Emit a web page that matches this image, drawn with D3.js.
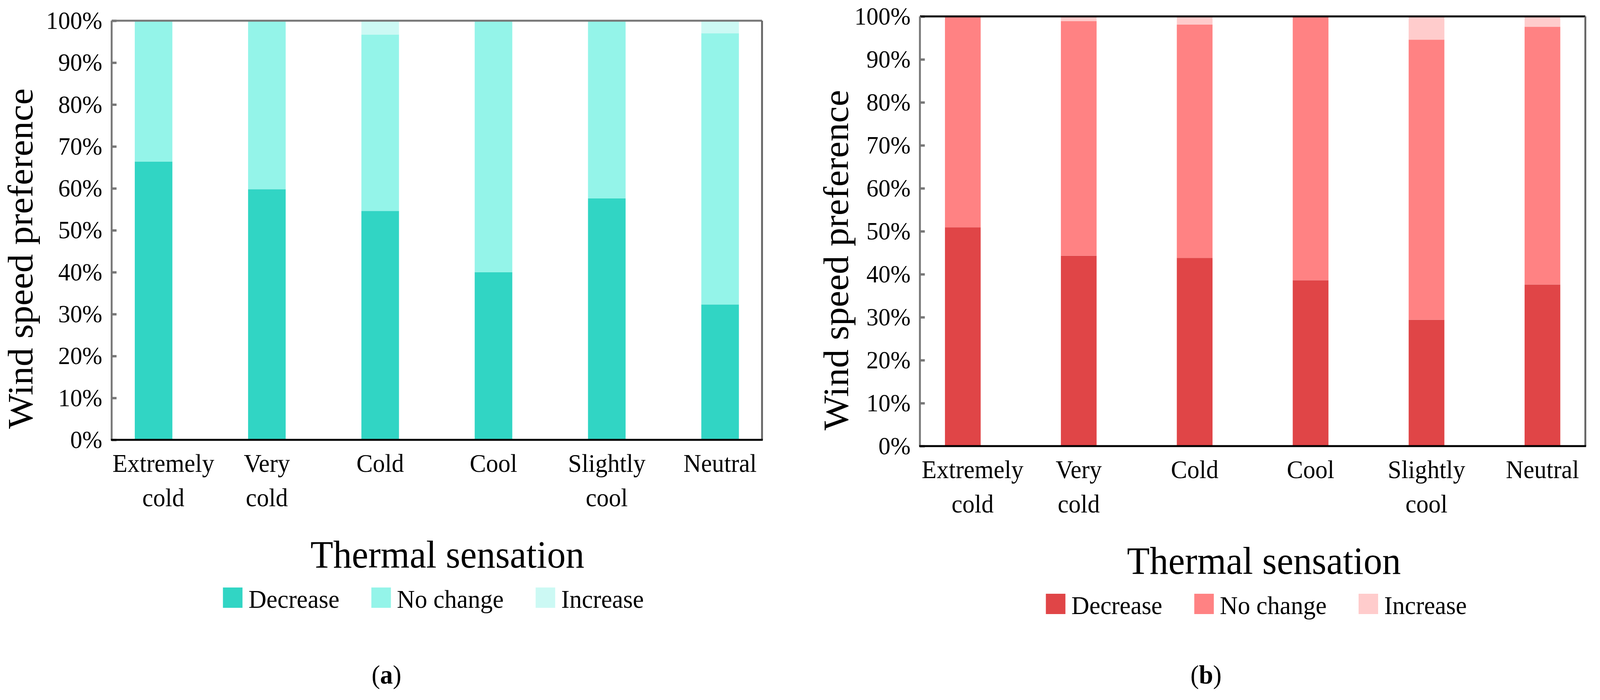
<!DOCTYPE html>
<html>
<head>
<meta charset="utf-8">
<script src="https://cdn.jsdelivr.net/npm/d3@7"></script>
<style>
  html, body { margin: 0; padding: 0; background: #fff; overflow: hidden; }
  svg { display: block; width: 100vw; height: 100vh; }
  text { font-family: "Liberation Serif", "Times New Roman", serif; fill: #000; }
</style>
</head>
<body>
<script>
// thermal sensation categories (shared by both panels)
const categories = ["Extremely cold", "Very cold", "Cold", "Cool", "Slightly cool", "Neutral"];
const seriesNames = ["Decrease", "No change", "Increase"];
const yTicks = [0, 10, 20, 30, 40, 50, 60, 70, 80, 90, 100];

// panel (a) percentages
const decreaseA = [66.4, 59.8, 54.6, 40.0, 57.6, 32.3];
const noChangeA = [33.6, 40.2, 42.1, 60.0, 42.4, 64.7];
const increaseA = [0, 0, 3.3, 0, 0, 3.0];

// panel (b) percentages
const decreaseB = [50.9, 44.3, 43.8, 38.6, 29.4, 37.6];
const noChangeB = [49.1, 54.6, 54.3, 61.4, 65.2, 60.0];
const increaseB = [0, 1.1, 1.9, 0, 5.4, 2.4];

const colorsA = ["#31d5c4", "#94f4e9", "#ccf9f4"];
const colorsB = ["#e04547", "#ff8283", "#ffcccc"];

const W = 4256, H = 1792;

// drawn in 4256x1792 units and stretched to whatever the window is
const svg = d3.select("body").append("svg")
    .attr("viewBox", `0 0 ${W} ${H}`)
    .attr("preserveAspectRatio", "none");

svg.append("rect").attr("width", W).attr("height", H).attr("fill", "#fff");

function drawPanel(cfg) {
    const rows = categories.map((c, i) => ({
        cat: c,
        "Decrease": cfg.dec[i],
        "No change": cfg.noc[i],
        "Increase": cfg.inc[i]
    }));
    const stacked = d3.stack().keys(seriesNames)(rows);

    const x = d3.scalePoint()
        .domain(categories)
        .range([cfg.left, cfg.right])
        .padding(0.37);
    const y = d3.scaleLinear()
        .domain([0, 100])
        .range([cfg.bottom, cfg.top]);

    const g = svg.append("g");

    // bars
    g.selectAll(".layer")
        .data(stacked)
        .join("g")
        .attr("class", "layer")
        .attr("fill", (d, i) => cfg.colors[i])
        .selectAll("rect")
        .data(d => d)
        .join("rect")
        .attr("x", d => x(d.data.cat) - cfg.barW / 2)
        .attr("y", d => y(d[1]))
        .attr("width", cfg.barW)
        .attr("height", d => y(d[0]) - y(d[1]));

    // y axis, ticks point inward
    const yAxis = g.append("g")
        .attr("transform", `translate(${cfg.left},0)`)
        .call(d3.axisLeft(y)
            .tickValues(yTicks)
            .tickFormat(d => d + "%")
            .tickSizeInner(-13)
            .tickSizeOuter(0)
            .tickPadding(25));
    yAxis.select(".domain").remove();
    yAxis.selectAll(".tick line")
        .attr("stroke", "#777")
        .attr("stroke-width", 6);
    yAxis.selectAll(".tick text")
        .style("font-family", '"Liberation Serif", serif')
        .attr("font-size", 64)
        .attr("fill", "#000");

    // frame
    g.append("line")
        .attr("x1", cfg.left).attr("x2", cfg.right)
        .attr("y1", cfg.top).attr("y2", cfg.top)
        .attr("stroke", cfg.topColor).attr("stroke-width", 5);
    g.append("line")
        .attr("x1", cfg.right).attr("x2", cfg.right)
        .attr("y1", cfg.top).attr("y2", cfg.bottom)
        .attr("stroke", "#666").attr("stroke-width", 5);
    g.append("line")
        .attr("x1", cfg.left).attr("x2", cfg.left)
        .attr("y1", cfg.top).attr("y2", cfg.bottom)
        .attr("stroke", "#777").attr("stroke-width", 5);
    g.append("line")
        .attr("x1", cfg.left - 2).attr("x2", cfg.right + 2)
        .attr("y1", cfg.bottom).attr("y2", cfg.bottom)
        .attr("stroke", "#000").attr("stroke-width", 5);

    // category labels, two lines where needed
    categories.forEach((c, i) => {
        const words = c.split(" ");
        const cx = x(c) + (i === 0 ? 26 : 0);
        const t = g.append("text")
            .attr("text-anchor", "middle")
            .attr("font-size", 65);
        words.forEach((w, j) => {
            t.append("tspan")
                .attr("x", cx)
                .attr("y", cfg.bottom + 82 + j * 88)
                .text(w);
        });
    });

    // y title
    g.append("text")
        .attr("transform", `translate(${cfg.yTitleX},${cfg.yTitleY}) rotate(-90)`)
        .attr("text-anchor", "middle")
        .attr("font-size", 95)
        .text("Wind speed preference");

    // x title
    g.append("text")
        .attr("x", cfg.xTitleX)
        .attr("y", cfg.bottom + 327)
        .attr("text-anchor", "middle")
        .attr("font-size", 99)
        .text("Thermal sensation");

    // legend
    let lx = cfg.legendX;
    const ly = cfg.bottom + 430;
    seriesNames.forEach((name, i) => {
        g.append("rect")
            .attr("x", lx)
            .attr("y", ly - 52)
            .attr("width", 52)
            .attr("height", 52)
            .attr("fill", cfg.colors[i]);
        const t = g.append("text")
            .attr("x", lx + 68)
            .attr("y", ly)
            .attr("font-size", 66)
            .text(name);
        lx = lx + 68 + t.node().getComputedTextLength() + 85;
    });

    // panel letter
    const p = g.append("text")
        .attr("x", cfg.letterX)
        .attr("y", 1750)
        .attr("text-anchor", "middle")
        .attr("font-size", 68);
    p.append("tspan").text("(");
    p.append("tspan").attr("font-weight", "bold").text(cfg.letter);
    p.append("tspan").text(")");
}

drawPanel({
    dec: decreaseA, noc: noChangeA, inc: increaseA, colors: colorsA,
    left: 297, right: 2027, top: 53, bottom: 1126, barW: 100,
    topColor: "#777", yTitleX: 86, yTitleY: 662,
    xTitleX: 1190, legendX: 593, letterX: 1028, letter: "a"
});

drawPanel({
    dec: decreaseB, noc: noChangeB, inc: increaseB, colors: colorsB,
    left: 2447, right: 4217, top: 42, bottom: 1142, barW: 95,
    topColor: "#000", yTitleX: 2256, yTitleY: 666,
    xTitleX: 3362, legendX: 2782, letterX: 3208, letter: "b"
});
</script>
</body>
</html>
